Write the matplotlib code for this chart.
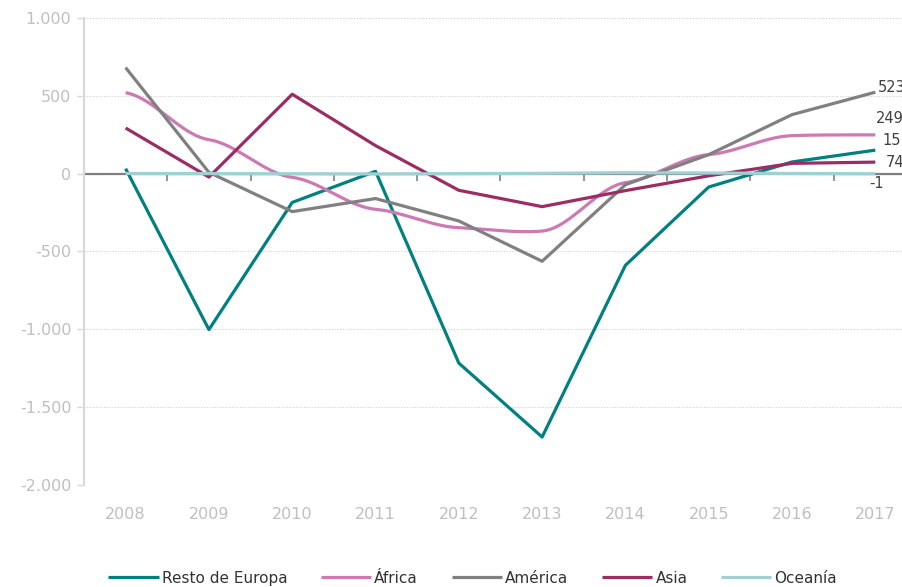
import numpy as np
import matplotlib.pyplot as plt

years = ['2008', '2009', '2010', '2011', '2012', '2013', '2014', '2015', '2016', '2017']

resto_europa = [32, -1002, -185, 15, -1217, -1692, -589, -86, 75, 151]
africa = [520, 218, -24, -229, -347, -369, -58, 122, 244, 249]
america = [681, 8, -244, -160, -304, -563, -71, 122, 379, 523]
asia = [293, -22, 510, 180, -107, -212, -109, -14, 66, 74]
oceania = [1, 0, -1, -2, 0, 2, 6, 4, 1, -1]

series_names = ['Resto de Europa', 'África', 'América', 'Asia', 'Oceanía']
series_colors = ['#008080', '#CC7AB3', '#808080', '#9B2D62', '#9FD0D4']

# label offsets (pixels) for the values at the end of each line
end_offsets = {'América': (2, 5), 'África': (1, 16), 'Resto de Europa': (7, 10),
               'Asia': (10, 0), 'Oceanía': (-6, -10)}


# cardinal spline through the points (smoothed line), k scales the tangents
def smooth(xs, ys, n=20, k=0.3):
    xs = np.asarray(xs, float)
    ys = np.asarray(ys, float)
    t = np.linspace(0, 1, n, endpoint=False)
    h00 = 2 * t ** 3 - 3 * t ** 2 + 1
    h10 = t ** 3 - 2 * t ** 2 + t
    h01 = -2 * t ** 3 + 3 * t ** 2
    h11 = t ** 3 - t ** 2
    dy = np.gradient(ys) * k
    out_x, out_y = [], []
    for i in range(len(xs) - 1):
        out_x.extend(xs[i] + t * (xs[i + 1] - xs[i]))
        out_y.extend(h00 * ys[i] + h10 * dy[i] + h01 * ys[i + 1] + h11 * dy[i + 1])
    out_x.append(xs[-1])
    out_y.append(ys[-1])
    return out_x, out_y


fig = plt.figure(figsize=(9.02, 5.87), dpi=100)
ax = fig.add_axes([0.0931, 0.1738, 0.9235, 0.7956])

x = np.arange(len(years))
ax.axhline(0, color='#808080', lw=1.6, zorder=2)

data = [resto_europa, africa, america, asia, oceania]
for name, values, color in zip(series_names, data, series_colors):
    if name == 'África':
        sx, sy = smooth(x, values)
    else:
        sx, sy = x, values
    ax.plot(sx, sy, color=color, lw=2.3, label=name, solid_capstyle='butt', zorder=3)
    ax.annotate('{:d}'.format(values[-1]), (x[-1], values[-1]), xytext=end_offsets[name],
                textcoords='offset pixels', ha='left', va='center', fontsize=10.5,
                color='#404040', zorder=5)

ax.set_xlim(-0.5, len(years) - 0.5)
ax.set_ylim(-2000, 1000)
ax.set_yticks(np.arange(-2000, 1001, 500))
ax.set_yticklabels(['{:,d}'.format(v).replace(',', '.') for v in range(-2000, 1001, 500)])
ax.set_xticks(x)
ax.set_xticklabels(years)

ax.grid(axis='y', color='#D0D0D0', linestyle=(0, (1, 1.5)), lw=0.8, zorder=0)
for side in ['top', 'right', 'bottom']:
    ax.spines[side].set_visible(False)
ax.spines['left'].set_color('#D9D9D9')
ax.spines['left'].set_linewidth(1.5)
ax.tick_params(axis='y', colors='#D9D9D9', labelcolor='#BFBFBF', length=5, width=1,
               labelsize=11.5, pad=4)
ax.tick_params(axis='x', length=0, labelcolor='#BFBFBF', labelsize=11.5, pad=16)

# tick marks of the category axis, which crosses at zero
zero_axis = ax.secondary_xaxis(0, transform=ax.transData)
zero_axis.set_xticks(np.arange(-0.5, len(years), 1.0))
zero_axis.set_xticklabels([])
zero_axis.tick_params(axis='x', direction='out', length=5, width=1.2, colors='#808080')
zero_axis.spines['bottom'].set_visible(False)

fig.legend(loc='center', bbox_to_anchor=(0.524, 0.015), ncol=5, frameon=False,
           fontsize=11, handlelength=3.3, columnspacing=2.2, handletextpad=0.2,
           labelcolor='#333333')

fig.savefig('out.png', dpi=100)
